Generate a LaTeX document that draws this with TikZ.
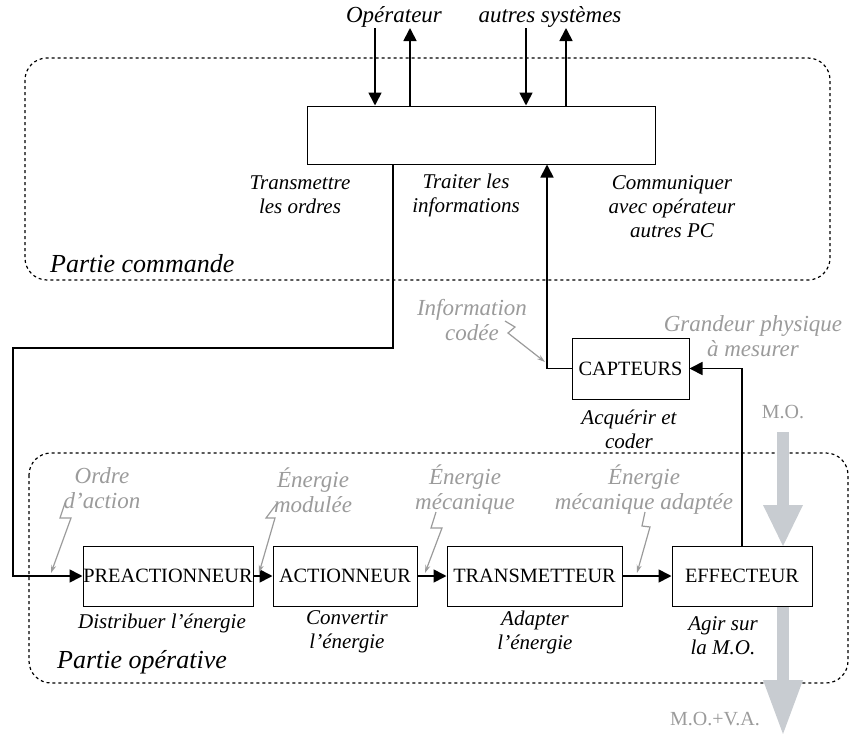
\documentclass[tikz,border=0pt]{standalone}
\usepackage{fontspec}
\setmainfont{Liberation Serif}
\usetikzlibrary{arrows.meta}
\definecolor{lblgray}{RGB}{155,155,155}
\definecolor{flowgray}{RGB}{200,204,209}

\begin{document}
\begin{tikzpicture}[x=1pt,y=-1pt,
  box/.style={draw,fill=white,line width=1pt,minimum height=60pt,inner sep=0pt,
    font=\fontsize{20.3}{23}\selectfont},
  fn/.style={align=center,inner sep=0pt,font=\fontsize{21}{24}\selectfont\itshape},
  glab/.style={align=center,inner sep=0pt,text=lblgray,font=\fontsize{23}{25}\selectfont\itshape},
  zonelab/.style={inner sep=0pt,font=\fontsize{26}{28}\selectfont\itshape},
  conn/.style={line width=1.7pt},
  tip/.style={-{Triangle[length=13pt,width=13pt]}},
  zig/.style={draw=lblgray,line width=1.2pt,-{Stealth[length=8pt,width=5pt]}},
  zone/.style={dash pattern=on 3pt off 3pt,line width=1.2pt,rounded corners=22pt},
  flow/.style={fill=flowgray}]

\useasboundingbox (0,0) rectangle (855,734);

% dotted zones
\draw[zone] (25,58) rectangle (830,280);
\draw[zone] (29,453) rectangle (848,683);
\node[zonelab,anchor=base west] (zpc) at (50,272) {Partie commande};
\node[zonelab,anchor=base west] (zpo) at (57,668) {Partie opérative};

% flow of matter (M.O.)
\fill[flow] (777,432) rectangle (789,506);
\fill[flow] (763,505) -- (803,505) -- (783,546) -- cycle;
\fill[flow] (777,600) rectangle (789,681);
\fill[flow] (763,680) -- (803,680) -- (783,734) -- cycle;
\node[text=lblgray,inner sep=0pt,font=\fontsize{20}{22}\selectfont] (mo) at (783,412) {M.O.};
\node[text=lblgray,inner sep=0pt,font=\fontsize{20}{22}\selectfont] (mova) at (715,719) {M.O.+V.A.};

% boxes
\node[box,minimum width=348pt,minimum height=58pt] (pc) at (481,135) {};
\node[box,minimum width=117pt,minimum height=61pt] (capt) at (630.5,368.5) {CAPTEURS};
\node[box,minimum width=170pt] (pre) at (168,576) {PREACTIONNEUR};
\node[box,minimum width=144pt] (act) at (345,576) {ACTIONNEUR};
\node[box,minimum width=175pt] (trans) at (534.5,576) {TRANSMETTEUR};
\node[box,minimum width=140pt] (eff) at (742,576) {EFFECTEUR};

% external partners
\node[inner sep=0pt,font=\fontsize{23}{25}\selectfont\itshape] (op) at (394,17) {Opérateur};
\node[inner sep=0pt,font=\fontsize{23}{25}\selectfont\itshape] (as) at (550,17) {autres systèmes};
\coordinate (xa) at (375,0);
\coordinate (xb) at (410,0);
\coordinate (xc) at (526,0);
\coordinate (xd) at (566,0);
\coordinate (top) at (0,28);
\draw[conn,tip] (top -| xa) -- (pc.north -| xa);
\draw[conn,tip] (pc.north -| xb) -- (top -| xb);
\draw[conn,tip] (top -| xc) -- (pc.north -| xc);
\draw[conn,tip] (pc.north -| xd) -- (top -| xd);

% function labels
\node[fn] (l1) at (300,195) {Transmettre\\les ordres};
\node[fn] (l2) at (466,195) {Traiter les\\informations};
\node[fn] (l3) at (672,207) {Communiquer\\avec opérateur\\autres PC};
\node[fn] (l4) at (629,429) {Acquérir et\\coder};
\node[fn] (l5) at (162,623) {Distribuer l’énergie};
\node[fn] (l6) at (347,632) {Convertir\\l’énergie};
\node[fn] (l7) at (535,632) {Adapter\\l’énergie};
\node[fn] (l8) at (723,636) {Agir sur\\la M.O.};

% information / energy labels
\node[glab] (g1) at (472,320) {Information\\codée};
\node[glab] (g2) at (753,336) {Grandeur physique\\à mesurer};
\node[glab] (g3) at (102,488) {Ordre\\d’action};
\node[glab] (g4) at (313,490) {Énergie\\modulée};
\node[glab] (g5) at (465,490) {Énergie\\mécanique};
\node[glab] (g6) at (644,490) {Énergie\\mécanique adaptée};

% command chain
\coordinate (c1) at (393,348);
\coordinate (c2) at (13,348);
\coordinate (c3) at (547,368);
\draw[conn,tip] (pc.south -| c1) -- (c1) -- (c2) |- (pre.west);
\draw[conn,tip] (capt.west) -| (pc.south -| c3);
\draw[conn,tip] (eff.north) |- (capt.east);

% energy chain
\draw[conn,tip] (pre.east) -- (act.west);
\draw[conn,tip] (act.east) -- (trans.west);
\draw[conn,tip] (trans.east) -- (eff.west);

% lightning pointers
\coordinate (z1a) at (505,321); \coordinate (z1b) at (515,327); \coordinate (z1c) at (508,333); \coordinate (z1d) at (545,362);
\draw[zig] (z1a) -- (z1b) -- (z1c) -- (z1d);
\coordinate (z2a) at (65,503); \coordinate (z2b) at (60,518); \coordinate (z2c) at (71,518); \coordinate (z2d) at (51,573);
\draw[zig] (z2a) -- (z2b) -- (z2c) -- (z2d);
\coordinate (z3a) at (278,502); \coordinate (z3b) at (266,518); \coordinate (z3c) at (275,518); \coordinate (z3d) at (259,573);
\draw[zig] (z3a) -- (z3b) -- (z3c) -- (z3d);
\coordinate (z4a) at (436,512); \coordinate (z4b) at (431,528); \coordinate (z4c) at (442,528); \coordinate (z4d) at (425,573);
\draw[zig] (z4a) -- (z4b) -- (z4c) -- (z4d);
\coordinate (z5a) at (645,512); \coordinate (z5b) at (642,526); \coordinate (z5c) at (650,527); \coordinate (z5d) at (637,573);
\draw[zig] (z5a) -- (z5b) -- (z5c) -- (z5d);
\end{tikzpicture}
\end{document}
